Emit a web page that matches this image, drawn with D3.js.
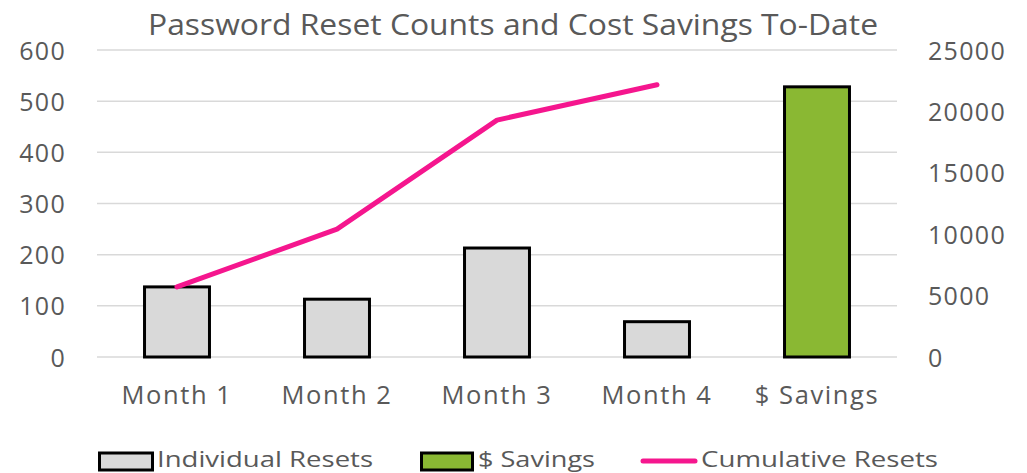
<!DOCTYPE html>
<html><head><meta charset="utf-8">
<script src="https://cdn.jsdelivr.net/npm/d3@7"></script>
<style>
html,body{margin:0;padding:0;background:#fff;}
svg{display:block;font-family:"Open Sans",sans-serif;}
</style></head>
<body>
<svg id="chart" width="1027" height="473"></svg>
<script>
const categories = ["Month 1", "Month 2", "Month 3", "Month 4", "$ Savings"];
const months = ["Month 1", "Month 2", "Month 3", "Month 4"];
const individualResets = [137, 113, 213, 69];
const cumulativeResets = [137, 250, 463, 532];
const savingsCategory = "$ Savings";
const savingsValue = 22000;
const leftTicks = [0, 100, 200, 300, 400, 500, 600];
const rightTicks = [0, 5000, 10000, 15000, 20000, 25000];
const title = "Password Reset Counts and Cost Savings To-Date";
const legendLabels = ["Individual Resets", "$ Savings", "Cumulative Resets"];

const svg = d3.select("#chart");
const textColor = "#595959";
const grid = "#d9d9d9";
const grayFill = "#d9d9d9";
const green = "#8ab833";
const pink = "#f5168e";

const plot = {left: 97, right: 897, top: 50, bottom: 357};

const x = d3.scaleBand().domain(categories).range([plot.left, plot.right]).paddingInner(0.594).paddingOuter(0.297);
const yL = d3.scaleLinear().domain([0, 600]).range([plot.bottom, plot.top]);
const yR = d3.scaleLinear().domain([0, 25000]).range([plot.bottom, plot.top]);

// title
svg.append("text").attr("x", 513).attr("y", 35).attr("text-anchor", "middle")
  .attr("font-size", 29).attr("fill", textColor).attr("textLength", 730).attr("lengthAdjust", "spacingAndGlyphs")
  .text(title);

// gridlines
svg.append("g").selectAll("line").data(leftTicks).join("line")
  .attr("x1", plot.left).attr("x2", plot.right)
  .attr("y1", d => yL(d)).attr("y2", d => yL(d))
  .attr("stroke", grid).attr("stroke-width", 1.5);

// left axis
const axL = svg.append("g").attr("transform", `translate(${plot.left},0)`)
  .call(d3.axisLeft(yL).tickValues(leftTicks).tickFormat(d3.format("d")).tickSize(0).tickPadding(31));
axL.select(".domain").remove();
axL.selectAll("text").attr("font-size", 25).attr("fill", textColor).attr("letter-spacing", 1.3)
  .attr("font-family", "'Open Sans',sans-serif").attr("dy", "0.36em");

// right axis
const axR = svg.append("g").attr("transform", `translate(${plot.right},0)`)
  .call(d3.axisRight(yR).tickValues(rightTicks).tickFormat(d3.format("d")).tickSize(0).tickPadding(31));
axR.select(".domain").remove();
axR.selectAll("text").attr("font-size", 25).attr("fill", textColor).attr("letter-spacing", 1.3)
  .attr("font-family", "'Open Sans',sans-serif").attr("dy", "0.36em");

// bottom axis labels
const axB = svg.append("g").attr("transform", `translate(0,${plot.bottom})`)
  .call(d3.axisBottom(x).tickSize(0).tickPadding(29));
axB.select(".domain").remove();
axB.selectAll("text").attr("font-size", 25.5).attr("fill", textColor).attr("letter-spacing", 1.6)
  .attr("font-family", "'Open Sans',sans-serif");

// bars
svg.append("g").selectAll("rect").data(months.map((m, i) => ({m, v: individualResets[i]}))).join("rect")
  .attr("x", d => x(d.m)).attr("width", x.bandwidth())
  .attr("y", d => yL(d.v)).attr("height", d => yL(0) - yL(d.v))
  .attr("fill", grayFill).attr("stroke", "#000").attr("stroke-width", 3);

svg.append("rect")
  .attr("x", x(savingsCategory)).attr("width", x.bandwidth())
  .attr("y", yR(savingsValue)).attr("height", yR(0) - yR(savingsValue))
  .attr("fill", green).attr("stroke", "#000").attr("stroke-width", 3);

// line
const line = d3.line().x((d, i) => x(months[i]) + x.bandwidth() / 2).y(d => yL(d));
svg.append("path").datum(cumulativeResets).attr("d", line)
  .attr("fill", "none").attr("stroke", pink).attr("stroke-width", 5)
  .attr("stroke-linecap", "round").attr("stroke-linejoin", "round");

// legend
const lg = svg.append("g");
lg.append("rect").attr("x", 99.5).attr("y", 453).attr("width", 53).attr("height", 17)
  .attr("fill", grayFill).attr("stroke", "#000").attr("stroke-width", 3);
lg.append("text").attr("x", 157).attr("y", 467).attr("font-size", 22).attr("fill", textColor)
  .attr("textLength", 216).attr("lengthAdjust", "spacingAndGlyphs").text(legendLabels[0]);
lg.append("rect").attr("x", 421.5).attr("y", 453).attr("width", 51).attr("height", 17)
  .attr("fill", green).attr("stroke", "#000").attr("stroke-width", 3);
lg.append("text").attr("x", 478).attr("y", 467).attr("font-size", 22).attr("fill", textColor)
  .attr("textLength", 117).attr("lengthAdjust", "spacingAndGlyphs").text(legendLabels[1]);
lg.append("line").attr("x1", 643).attr("x2", 695).attr("y1", 461).attr("y2", 461)
  .attr("stroke", pink).attr("stroke-width", 5).attr("stroke-linecap", "round");
lg.append("text").attr("x", 701).attr("y", 467).attr("font-size", 22).attr("fill", textColor)
  .attr("textLength", 237).attr("lengthAdjust", "spacingAndGlyphs").text(legendLabels[2]);
</script>
</body></html>
